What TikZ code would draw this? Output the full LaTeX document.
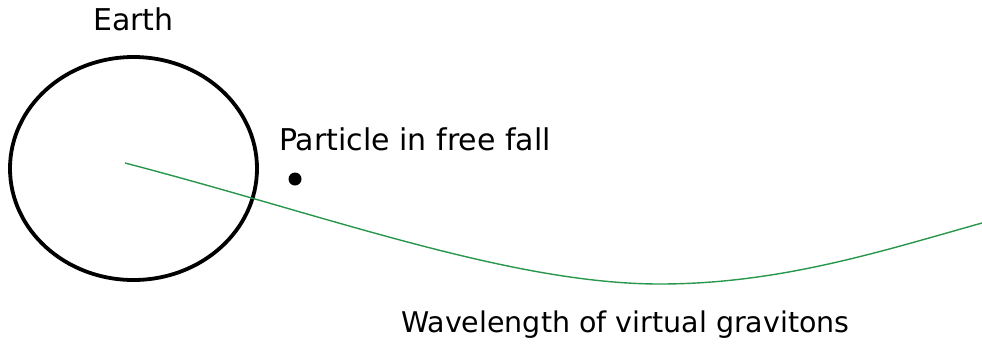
\documentclass[tikz,border=0pt]{standalone}
\usepackage{fontspec}
\setmainfont{DejaVu Sans}
\definecolor{wavegreen}{RGB}{40,150,75}
\tikzset{
  lbl/.style={anchor=base west, inner sep=0pt, font=\fontsize{30}{32}\selectfont},
  earthring/.style={draw=black, line width=3.8pt},
  wave/.style={draw=wavegreen, line width=1.4pt},
  dotmark/.style={circle, fill=black, inner sep=0pt, minimum size=13pt}
}
\begin{document}
\begin{tikzpicture}[x=1pt,y=-1pt]
\useasboundingbox (0,0) rectangle (982,343);
% Earth
\draw[earthring] (133.5,168.5) ellipse [x radius=123.5, y radius=111.5];
\coordinate (c) at (125,163);
\coordinate (low) at (660,284);
\coordinate (endw) at (982,223);
\node[lbl] (earth) at (93,30) {Earth};
\node[lbl] (particle) at (279,150) {Particle in free fall};
\node[dotmark] (p) at (295,179) {};
\node[lbl, font=\fontsize{28.5}{30}\selectfont] (wl) at (401,332) {Wavelength of virtual gravitons};
\draw[wave] (c) .. controls (325,215) and (510,284) .. (low)
  .. controls (780,284) and (882,251) .. (endw);
\end{tikzpicture}
\end{document}
